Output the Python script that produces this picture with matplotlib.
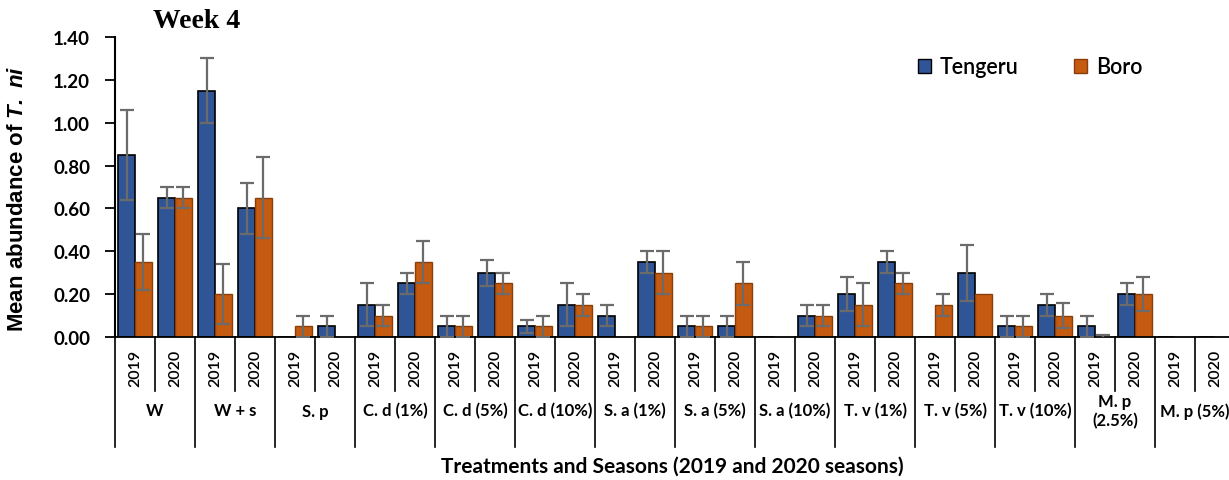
import numpy as np
import matplotlib
matplotlib.use('Agg')
import matplotlib.pyplot as plt
import matplotlib.patches as mpatches
import matplotlib.transforms as mtransforms

# treatments, each measured in 2019 and 2020
treatments = ['W', 'W + s', 'S. p', 'C. d (1%)', 'C. d (5%)', 'C. d (10%)',
              'S. a (1%)', 'S. a (5%)', 'S. a (10%)', 'T. v (1%)', 'T. v (5%)',
              'T. v (10%)', 'M. p\n(2.5%)', 'M. p (5%)']
years = ['2019', '2020']

# one value per treatment/season slot (28 slots)
tengeru = [0.85, 0.65, 1.15, 0.60, 0.00, 0.05, 0.15, 0.25, 0.05, 0.30,
           0.05, 0.15, 0.10, 0.35, 0.05, 0.05, 0.00, 0.10, 0.20, 0.35,
           0.00, 0.30, 0.05, 0.15, 0.05, 0.20, 0.00, 0.00]
tengeru_err = [0.21, 0.05, 0.15, 0.12, 0.00, 0.05, 0.10, 0.05, 0.05, 0.06,
               0.03, 0.10, 0.05, 0.05, 0.05, 0.05, 0.00, 0.05, 0.08, 0.05,
               0.00, 0.13, 0.05, 0.05, 0.05, 0.05, 0.00, 0.00]
boro = [0.35, 0.65, 0.20, 0.65, 0.05, 0.00, 0.10, 0.35, 0.05, 0.25,
        0.05, 0.15, 0.00, 0.30, 0.05, 0.25, 0.00, 0.10, 0.15, 0.25,
        0.15, 0.20, 0.05, 0.10, 0.00, 0.20, 0.00, 0.00]
boro_err = [0.13, 0.05, 0.14, 0.19, 0.05, 0.00, 0.05, 0.10, 0.05, 0.05,
            0.05, 0.05, 0.00, 0.10, 0.05, 0.10, 0.00, 0.05, 0.10, 0.05,
            0.05, 0.00, 0.05, 0.06, 0.01, 0.08, 0.00, 0.00]

blue = '#2F5597'
orange = '#C55A11'
sans = 'Lato'

plt.rcParams['mathtext.fontset'] = 'custom'
plt.rcParams['mathtext.rm'] = 'Liberation Sans:bold'
plt.rcParams['mathtext.bf'] = 'Liberation Sans:bold'
plt.rcParams['mathtext.it'] = 'Liberation Sans:italic:bold'
plt.rcParams['mathtext.bfit'] = 'Liberation Sans:italic:bold'

W, H = 1229, 481
fig = plt.figure(figsize=(W / 100, H / 100), dpi=100)
ax = fig.add_axes([115 / W, 1 - 338 / H, (1235 - 115) / W, 300 / H])

x = np.arange(len(tengeru))
bw = 0.42
ax.bar(x - bw / 2, tengeru, bw, color=blue, edgecolor='black', linewidth=1.2, zorder=2)
ax.bar(x + bw / 2, boro, bw, color=orange, edgecolor='#8B3E0A', linewidth=1.0, zorder=2)

# error bars only where an error was shown
for off, vals, errs in [(-bw / 2, tengeru, tengeru_err), (bw / 2, boro, boro_err)]:
    idx = [i for i in range(len(vals)) if errs[i] > 0]
    ax.errorbar(x[idx] + off, np.array(vals)[idx], yerr=np.array(errs)[idx],
                fmt='none', ecolor='#6b6b6b', elinewidth=1.6, capsize=5,
                capthick=1.6, zorder=3)

ax.set_xlim(-0.5, len(tengeru) - 0.5)
ax.set_ylim(0, 1.40)
ax.set_yticks(np.arange(0, 1.41, 0.2))
ax.set_yticklabels(['%.2f' % v for v in np.arange(0, 1.41, 0.2)],
                   fontsize=13.5, fontweight='bold', family=sans)
ax.tick_params(axis='y', direction='out', length=7, width=1.3, pad=11)
ax.set_xticks([])
for s in ['top', 'right']:
    ax.spines[s].set_visible(False)
ax.spines['left'].set_linewidth(1.5)
ax.spines['bottom'].set_linewidth(1.3)

# category table under the axis
trans = mtransforms.blended_transform_factory(ax.transData, ax.transAxes)
for k, name in enumerate(treatments):
    left = 2 * k - 0.5
    ax.plot([left, left], [0, -0.367], color='black', lw=1.2, transform=trans, clip_on=False)
    ax.plot([left + 1, left + 1], [0, -0.18], color='black', lw=1.2, transform=trans, clip_on=False)
    for j, yr in enumerate(years):
        ax.text(2 * k + j, -0.1, yr, rotation=90, ha='center', va='center',
                fontsize=11.5, fontweight='semibold', family=sans, transform=trans)
    ax.text(2 * k + 0.5, -0.245, name, ha='center', va='center', fontsize=12,
            fontweight='bold', family=sans, transform=trans, linespacing=1.25)

fig.text(672 / W, 1 - 467 / H, 'Treatments and Seasons (2019 and 2020 seasons)',
         ha='center', va='center', fontsize=15, fontweight='bold', family=sans)
fig.text(18 / W, 1 - 199 / H, r'Mean abundance of $\mathbfit{T.\ ni}$', rotation=90,
         ha='center', va='center', fontsize=16, fontweight='bold', family='Liberation Sans')
fig.text(197 / W, 1 - 21 / H, 'Week 4', ha='center', va='center', fontsize=20,
         fontweight='bold', family='Liberation Serif')

handles = [mpatches.Patch(facecolor=blue, edgecolor='black', label='Tengeru'),
           mpatches.Patch(facecolor=orange, edgecolor='#8B3E0A', label='Boro')]
fig.legend(handles=handles, loc='center left', bbox_to_anchor=(918 / W, 1 - 68 / H),
           ncol=2, frameon=False, prop={'family': sans, 'size': 15.5, 'weight': 'semibold'},
           handlelength=0.6, handleheight=0.6, handletextpad=0.4,
           columnspacing=2.6, borderpad=0, borderaxespad=0)

fig.savefig('out.png', dpi=100)
